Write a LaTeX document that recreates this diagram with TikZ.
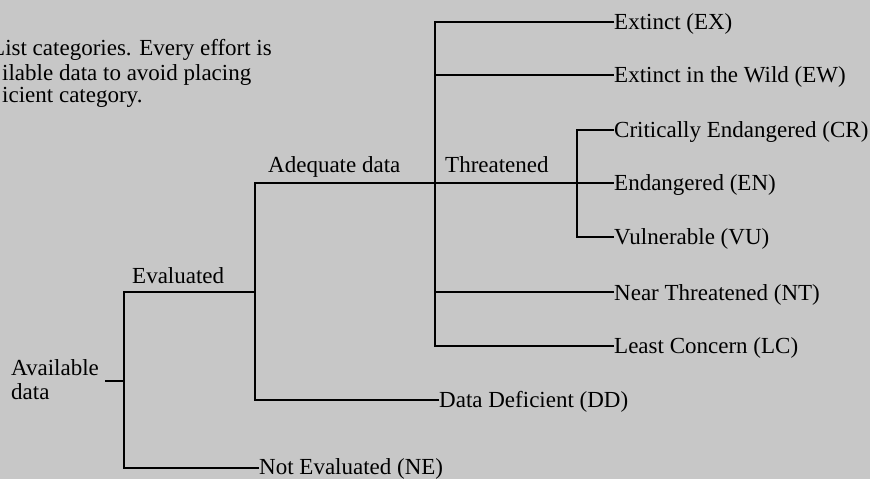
\documentclass[tikz,border=0pt]{standalone}
\usepackage{fontspec}
\setmainfont{Liberation Serif}
\begin{document}
\begin{tikzpicture}[x=1pt,y=-1pt,
  lbl/.style={anchor=base west, inner sep=0pt, font=\fontsize{23}{24}\selectfont},
  branch/.style={line width=2.7pt, line join=miter}]
\fill[black!22] (0,0) rectangle (870,479);
\useasboundingbox (0,0) rectangle (870,479);
% caption fragment
\node[lbl] (cap1) at (-9,55) {List categories. Every effort is};
\node[lbl] (cap2) at (2,80) {ilable data to avoid placing};
\node[lbl] (cap3) at (2,102) {icient category.};
% labels
\node[lbl, align=left] (avail) at (11,399) {Available\\data};
\node[lbl] (evald) at (132,283) {Evaluated};
\node[lbl] (adeq) at (268,172) {Adequate data};
\node[lbl] (thr) at (445,172) {Threatened};
\node[lbl] (ne) at (259,474) {Not Evaluated (NE)};
\node[lbl] (dd) at (439,407.5) {Data Deficient (DD)};
\node[lbl] (ex) at (614,29.5) {Extinct (EX)};
\node[lbl] (ew) at (614,82.5) {Extinct in the Wild (EW)};
\node[lbl] (cr) at (614,137.5) {Critically Endangered (CR)};
\node[lbl] (en) at (614,190.5) {Endangered (EN)};
\node[lbl] (vu) at (614,244.5) {Vulnerable (VU)};
\node[lbl] (nt) at (614,300) {Near Threatened (NT)};
\node[lbl] (lc) at (614,353.5) {Least Concern (LC)};
% junctions
\coordinate (a0) at (105,381);
\coordinate (a1) at (124,381);
\coordinate (e0) at (255,292);
\coordinate (t0) at (435,183);
\coordinate (t1) at (577,183);
% connectors
\draw[branch] (a0) -- (a1);
\draw[branch] (ne.west |- 0,468) -- (124,468) -- (124,292) -- (e0);
\draw[branch] (dd.west |- 0,400) -- (255,400) -- (255,183) -- (t0);
\draw[branch] (t0) -- (t1) -- (en.west |- t1);
\draw[branch] (ex.west |- 0,22) -- (435,22) -- (435,346) -- (lc.west |- 0,346);
\draw[branch] (435,75) -- (ew.west |- 0,75);
\draw[branch] (435,292) -- (nt.west |- 0,292);
\draw[branch] (cr.west |- 0,130) -- (577,130) -- (577,237) -- (vu.west |- 0,237);
\end{tikzpicture}
\end{document}
